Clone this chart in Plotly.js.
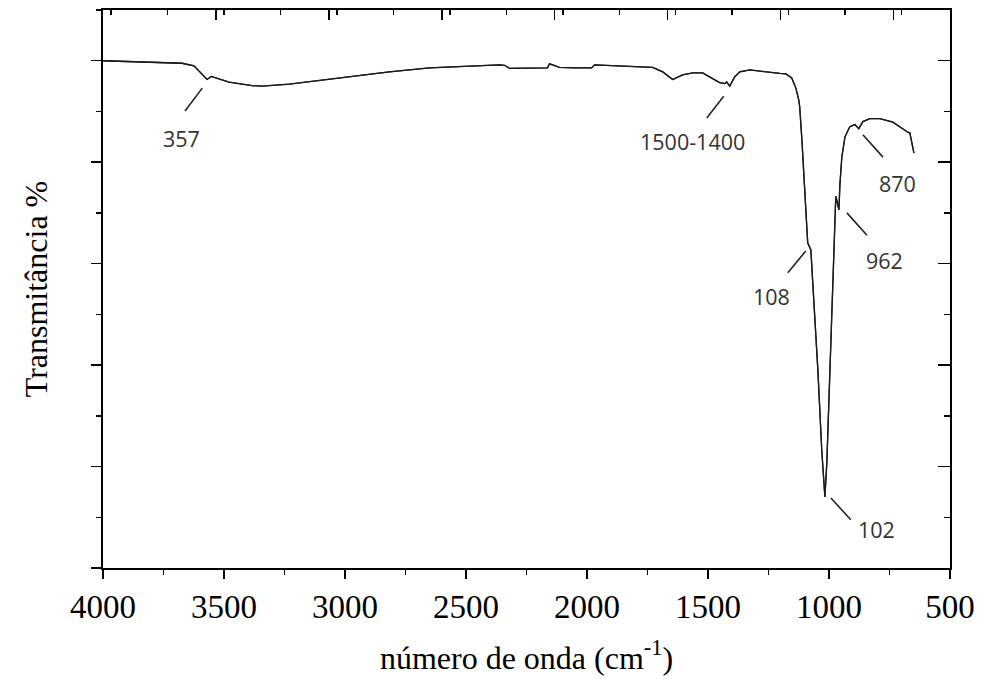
<!DOCTYPE html>
<html>
<head>
<meta charset="utf-8">
<script src="https://cdn.plot.ly/plotly-3.0.1.min.js"></script>
<style>html,body{margin:0;padding:0;background:#fff;}#chart{width:984px;height:679px;}</style>
</head>
<body>
<div id="chart"></div>
<script>
// Wavenumber (cm-1) and transmittance (%)
const wavenumber = [4000,3673,3624,3574,3570,3553,3479,3384,3342,3230,3094,2953,2817,2651,2486,2362,2341,2320,2163,2155,2142,2114,2051,1981,1969,1865,1729,1687,1646,1605,1563,1522,1485,1452,1431,1423,1410,1390,1369,1327,1203,1178,1154,1137,1125,1121,1112,1104,1092,1088,1075,1046,1030,1017,1009,997,984,976,972,968,959,955,947,934,914,893,877,860,831,790,736,674,666,649];
const transmittance = [100,99.5,99.0,96.6,96.3,96.9,95.8,95.1,95.0,95.4,96.2,97.0,97.8,98.6,99.0,99.2,99.1,98.5,98.6,99.4,99.2,98.7,98.6,98.6,99.2,99.0,98.7,97.8,96.3,97.2,97.6,97.6,96.6,95.7,95.5,95.8,95.0,96.8,97.8,98.2,97.5,97.4,96.6,94.6,92.3,90.9,84.4,77.9,68.0,64.1,62.7,39.0,23.3,14.0,20.7,37.1,58.7,69.6,73.3,72.5,70.6,75.5,81.0,85.0,87.0,87.4,86.6,88.0,88.6,88.6,87.9,85.9,85.8,81.8];

// Band labels: text, label position, leader line endpoints
const bandLabels = ["357", "1500-1400", "108", "962", "870", "102"];
const labelX = [3677, 1563, 1236, 769, 715, 802];
const labelY = [84.6, 84.1, 53.6, 60.6, 75.7, 7.6];
const leaderX0 = [3661, 1505, 1170, 926, 860, 992];
const leaderY0 = [90.1, 88.7, 58.2, 70.0, 85.4, 13.8];
const leaderX1 = [3590, 1435, 1096, 843, 777, 910];
const leaderY1 = [94.6, 93.0, 62.5, 65.6, 81.0, 9.5];

const serif = '"Liberation Serif", "Times New Roman", serif';
const sans = '"Open Sans", "Noto Sans", sans-serif';

const trace = {
  x: wavenumber, y: transmittance, type: 'scatter', mode: 'lines',
  line: {color: '#1a1a1a', width: 1.3}, hoverinfo: 'skip'
};
// same spectrum bound to the mirror (top/right) axes so that they are drawn
const traceMirror = Object.assign({}, trace, {xaxis: 'x2', yaxis: 'y2'});

const annotations = bandLabels.map((t, i) => ({
  x: labelX[i], y: labelY[i], xref: 'x', yref: 'y', text: t, showarrow: false,
  xanchor: 'center', yanchor: 'middle', font: {family: sans, size: 21.5, color: '#333'}
}));
const shapes = bandLabels.map((t, i) => ({
  type: 'line', xref: 'x', yref: 'y', x0: leaderX0[i], y0: leaderY0[i], x1: leaderX1[i], y1: leaderY1[i],
  line: {color: '#222', width: 1.6}
}));

const layout = {
  width: 984, height: 679,
  margin: {l: 103, r: 34, t: 10, b: 111},
  paper_bgcolor: '#fff', plot_bgcolor: '#fff',
  showlegend: false,
  xaxis: {
    range: [4000, 500], tickmode: 'linear', tick0: 500, dtick: 500,
    ticks: 'outside', ticklen: 9, tickwidth: 1.5, tickcolor: '#000',
    minor: {dtick: 250, ticks: 'outside', ticklen: 5, tickwidth: 1.5, tickcolor: '#000'},
    showline: true, linecolor: '#000', linewidth: 1.6, showgrid: false, zeroline: false,
    tickfont: {family: serif, size: 33, color: '#000'},
    title: {text: 'número de onda (cm<sup>-1</sup>)', font: {family: serif, size: 32, color: '#000'}, standoff: 22}
  },
  xaxis2: {
    overlaying: 'x', side: 'top', anchor: 'y2', range: [4000, 500], tickmode: 'linear', tick0: 4000, dtick: 3500 / 7.5,
    ticks: 'inside', ticklen: 10, tickwidth: 1.5, tickcolor: '#000',
    minor: {dtick: 3500 / 15, ticks: 'inside', ticklen: 5, tickwidth: 1.5, tickcolor: '#000'},
    showticklabels: false, showline: true, linecolor: '#000', linewidth: 1.6, showgrid: false, zeroline: false
  },
  yaxis: {
    range: [0, 110], tickmode: 'linear', tick0: 0, dtick: 20,
    ticks: 'outside', ticklen: 10, tickwidth: 1.5, tickcolor: '#000',
    minor: {dtick: 10, ticks: 'outside', ticklen: 5, tickwidth: 1.5, tickcolor: '#000'},
    showticklabels: false, showline: true, linecolor: '#000', linewidth: 1.6, showgrid: false, zeroline: false,
    title: {text: 'Transmitância %', font: {family: serif, size: 32, color: '#000'}, standoff: 34}
  },
  yaxis2: {
    overlaying: 'y', side: 'right', anchor: 'x2', range: [0, 110], tickmode: 'linear', tick0: 0, dtick: 20,
    ticks: 'inside', ticklen: 12, tickwidth: 1.5, tickcolor: '#000',
    minor: {dtick: 10, ticks: 'inside', ticklen: 6, tickwidth: 1.5, tickcolor: '#000'},
    showticklabels: false, showline: true, linecolor: '#000', linewidth: 1.6, showgrid: false, zeroline: false
  },
  annotations: annotations,
  shapes: shapes
};

Plotly.newPlot('chart', [trace, traceMirror], layout, {staticPlot: true, displayModeBar: false});
</script>
</body>
</html>
